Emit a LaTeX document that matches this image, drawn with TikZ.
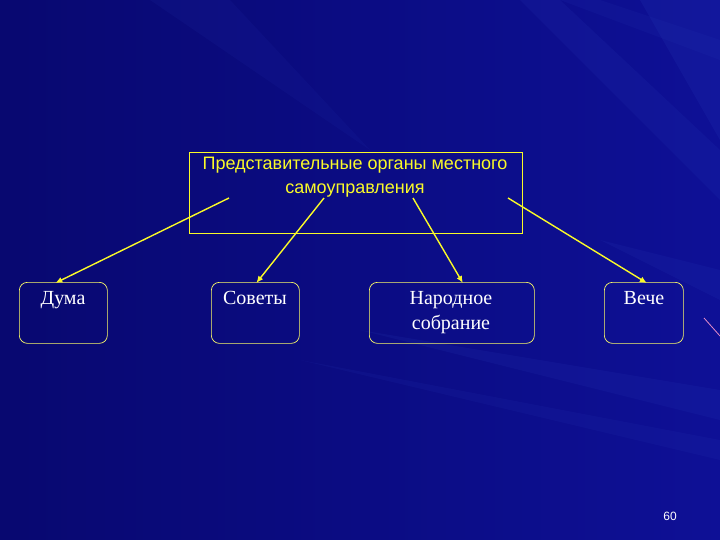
\documentclass[tikz,border=0pt]{standalone}
\usepackage{fontspec}
\setmainfont{Liberation Serif}
\newfontfamily\headfont{Liberation Sans}
\usetikzlibrary{arrows.meta,calc}
\definecolor{bgdark}{RGB}{8,8,112}
\definecolor{bgmid}{RGB}{14,16,150}
\definecolor{bglight}{RGB}{40,60,185}
\definecolor{ylw}{RGB}{250,250,40}
\definecolor{pinkline}{RGB}{230,140,200}
\tikzset{
  x=1pt,y=-1pt,
  head/.style={draw=ylw,line width=0.8pt,minimum width=333pt,minimum height=81pt,anchor=north west,inner sep=0pt},
  headtext/.style={text=ylw,font=\headfont\fontsize{18}{24}\selectfont,align=center,anchor=north,inner sep=0pt},
  leaf/.style={draw=ylw!70!white,line width=0.7pt,rounded corners=8pt,minimum height=61pt,anchor=north west,inner sep=0pt},
  leaftext/.style={text=white,font=\fontsize{20}{25}\selectfont,align=center,anchor=north,inner sep=0pt},
  conn/.style={draw=ylw,line width=1.4pt,-{Latex[length=7pt,width=6pt]}},
  ray/.style={fill=bglight}
}
\begin{document}
\begin{tikzpicture}
\useasboundingbox (0,0) rectangle (720,540);
\shade[left color=bgdark,right color=bgmid] (0,0) rectangle (720,540);
% light rays
\fill[ray,opacity=0.18] (720,0) -- (640,0) -- (720,140) -- cycle;
\fill[ray,opacity=0.12] (720,60) -- (560,0) -- (600,0) -- (720,40) -- cycle;
\fill[ray,opacity=0.15] (720,200) -- (520,0) -- (560,0) -- (720,150) -- cycle;
\fill[ray,opacity=0.15] (720,420) -- (360,330) -- (720,390) -- cycle;
\fill[ray,opacity=0.12] (720,460) -- (300,360) -- (720,440) -- cycle;
\fill[ray,opacity=0.15] (720,300) -- (600,240) -- (720,270) -- cycle;
\fill[ray,opacity=0.1] (150,0) -- (230,0) -- (370,150) -- cycle;
\draw[pinkline,line width=0.8pt] (704,318) -- (720,336);
% nodes
\node[head] (top) at (189,152) {};
\node[headtext] (toptext) at (355,157) {Представительные органы местного\\самоуправления};
\node[leaf,minimum width=88pt] (duma) at (19,282) {};
\node[leaftext] (dumat) at (63,291) {Дума};
\node[leaf,minimum width=88pt] (sov) at (211,282) {};
\node[leaftext] (sovt) at (255,291) {Советы};
\node[leaf,minimum width=165pt] (nar) at (369,282) {};
\node[leaftext] (nart) at (451,291) {Народное\\собрание};
\node[leaf,minimum width=79pt] (vech) at (604,282) {};
\node[leaftext] (vecht) at (644,291) {Вече};
\node[text=white,font=\headfont\fontsize{12}{14}\selectfont] (pg) at (670,516) {60};
% connectors
\coordinate (s1) at (229,198);
\coordinate (s2) at (324,198);
\coordinate (s3) at (413,198);
\coordinate (s4) at (508,198);
\draw[conn] (s1) -- ($(duma.north)+(-8,1)$);
\draw[conn] (s2) -- ($(sov.north)+(1,1)$);
\draw[conn] (s3) -- ($(nar.north)+(11,1)$);
\draw[conn] (s4) -- ($(vech.north)+(3,1)$);
\end{tikzpicture}
\end{document}
